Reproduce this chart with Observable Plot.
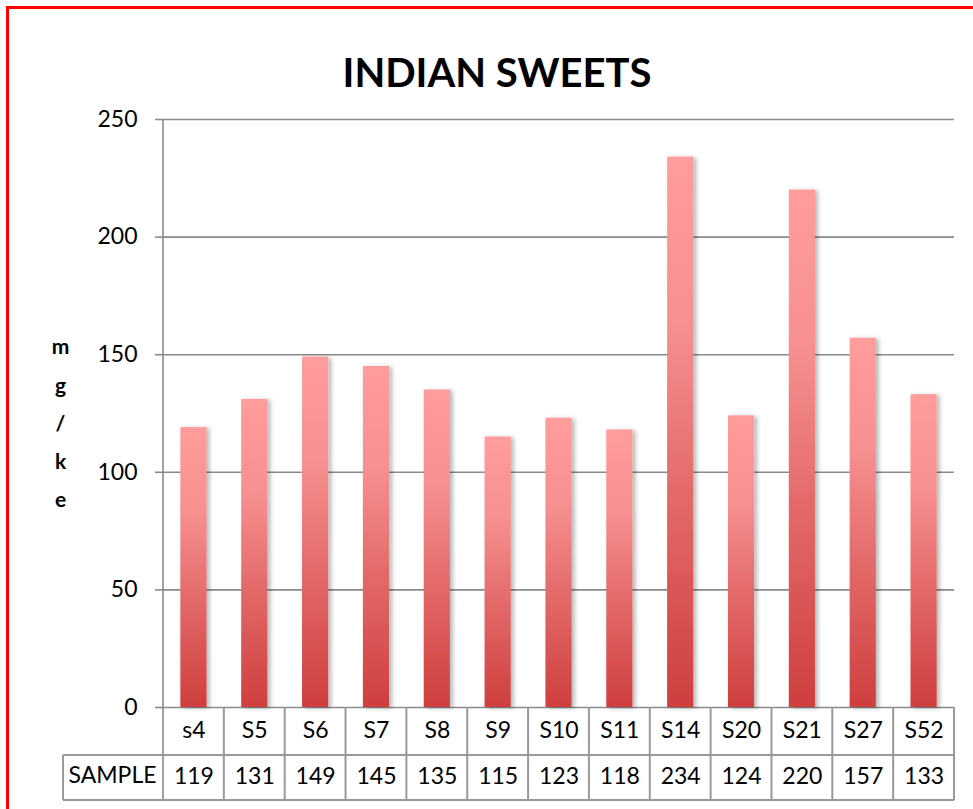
<!DOCTYPE html>
<html>
<head>
<meta charset="utf-8">
<script src="https://cdn.jsdelivr.net/npm/d3@7"></script>
<script src="https://cdn.jsdelivr.net/npm/@observablehq/plot@0.6"></script>
<style>
  html, body { margin: 0; padding: 0; background: #fff; overflow: hidden; }
  #chart { position: relative; width: 973px; height: 809px; overflow: hidden; }
  #chart svg { display: block; max-width: none !important; }
</style>
</head>
<body>
<div id="chart"></div>
<script>
const title = "INDIAN SWEETS";
const categories = ["s4","S5","S6","S7","S8","S9","S10","S11","S14","S20","S21","S27","S52"];
const values = [119,131,149,145,135,115,123,118,234,124,220,157,133];
const yTicks = [0,50,100,150,200,250];
const yLabel = "m\ng\n/\nk\ne";
const rowLabel = "SAMPLE";

const data = categories.map((c, i) => ({cat: c, value: values[i]}));
const FONT = "Lato, 'Open Sans', sans-serif";

const plot = Plot.plot({
  width: 973,
  height: 809,
  marginLeft: 163,
  marginRight: 19,
  marginTop: 119,
  marginBottom: 102,
  style: {fontFamily: FONT, fontSize: "22px", color: "#000", background: "#fff", overflow: "hidden"},
  x: {type: "band", domain: categories, paddingInner: 0.57, paddingOuter: 0.285, round: false, axis: null},
  y: {domain: [0, 250], ticks: yTicks, axis: null},
  marks: [
    Plot.gridY(yTicks, {stroke: "#8a8a8a", strokeOpacity: 1, strokeWidth: 1.6}),
    Plot.axisY(yTicks, {tickSize: 8, tickPadding: 18, fontSize: 23, stroke: "#8a8a8a", strokeWidth: 1.6, fill: "#000", label: null}),
    Plot.barY(data, {x: "cat", y: "value", fill: "url(#barGrad)"}),
    Plot.text(data, {x: "cat", text: "cat", frameAnchor: "bottom", dy: 30, fontSize: 23, fill: "#000"}),
    Plot.text(data, {x: "cat", text: d => String(d.value), frameAnchor: "bottom", dy: 76, fontSize: 23, fill: "#000"}),
    Plot.text([rowLabel], {text: d => d, frameAnchor: "bottom-left", dx: -51, dy: 75, textAnchor: "middle", fontSize: 23, fill: "#000"}),
    Plot.text([title], {text: d => d, frameAnchor: "top", dx: -62, dy: -61, fontSize: 40, fontWeight: "bold", fill: "#000"}),
    Plot.text([yLabel], {text: d => d, frameAnchor: "left", dx: -103, dy: 5, textAnchor: "middle", fontSize: 21, fontWeight: "bold", lineHeight: 1.82, fill: "#000"})
  ]
});

document.getElementById("chart").appendChild(plot);

// defs: gradient and shadow
const svg = d3.select(plot);
const defs = svg.insert("defs", ":first-child");
const grad = defs.append("linearGradient").attr("id", "barGrad")
  .attr("x1", 0).attr("y1", 0).attr("x2", 0).attr("y2", 1);
[["0%", "#ff9c9c"], ["30%", "#f79090"], ["60%", "#e46b6b"], ["100%", "#cf3f3e"]]
  .forEach(([o, c]) => grad.append("stop").attr("offset", o).attr("stop-color", c));
const flt = defs.append("filter").attr("id", "barShadow")
  .attr("x", "-20%").attr("y", "-5%").attr("width", "160%").attr("height", "115%");
flt.append("feDropShadow").attr("dx", 3).attr("dy", 1).attr("stdDeviation", 2.2)
  .attr("flood-color", "#000").attr("flood-opacity", 0.28);
svg.selectAll('g[aria-label="bar"]').attr("filter", "url(#barShadow)");

// table + axis line, from the scales
const xs = plot.scale("x");
const ys = plot.scale("y");
const gap = (xs.step - xs.bandwidth) / 2;
const edges = categories.map(c => xs.apply(c) - gap);
edges.push(xs.apply(categories[categories.length - 1]) + xs.bandwidth + gap);
const y0 = ys.apply(0), yTop = ys.apply(250);
const row1 = y0 + 48, row2 = row1 + 45;
const left = edges[0], right = edges[edges.length - 1], tableLeft = 63;
const g = svg.append("g").attr("stroke", "#999").attr("stroke-width", 2).attr("fill", "none");
g.append("line").attr("x1", left).attr("x2", left).attr("y1", yTop).attr("y2", row2).attr("stroke", "#8a8a8a").attr("stroke-width", 1.6);
edges.slice(1).forEach(x => g.append("line").attr("x1", x).attr("x2", x).attr("y1", y0).attr("y2", row2));
g.append("line").attr("x1", tableLeft).attr("x2", tableLeft).attr("y1", row1).attr("y2", row2);
g.append("line").attr("x1", tableLeft).attr("x2", right).attr("y1", row1).attr("y2", row1);
g.append("line").attr("x1", tableLeft).attr("x2", right).attr("y1", row2).attr("y2", row2);

// red outer border
svg.append("rect").attr("x", 7.5).attr("y", 7.5).attr("width", 2000).attr("height", 2000)
  .attr("fill", "none").attr("stroke", "#ff0000").attr("stroke-width", 3);
</script>
</body>
</html>
